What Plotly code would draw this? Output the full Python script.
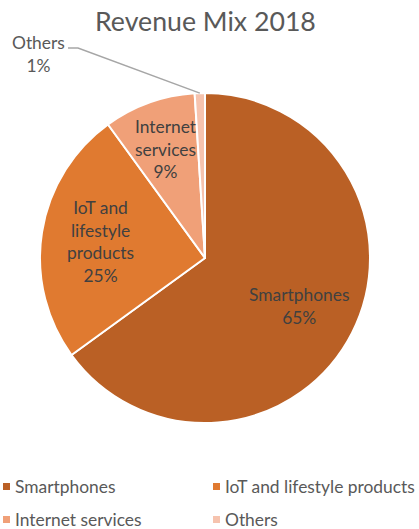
import math
import plotly.graph_objects as go

W, H = 419, 529
title = "Revenue Mix 2018"
labels = ["Smartphones", "IoT and lifestyle products", "Internet services", "Others"]
slice_text = ["Smartphones", "IoT and<br>lifestyle<br>products", "Internet<br>services", "Others"]
values = [65, 25, 9, 1]
colors = ["#BA6025", "#E07A30", "#F0A078", "#F6C3AE"]

FONT = "Lato"
FS = 17.4
cx, cy, R = 205, 258, 165  # pixel layout of pie
cyb = H - cy

fig = go.Figure(go.Pie(
    labels=labels, values=values, sort=False, direction="clockwise", rotation=0,
    marker=dict(colors=colors, line=dict(color="white", width=2)),
    textinfo="none", hoverinfo="label+percent", showlegend=False,
    domain=dict(x=[(cx - R) / W, (cx + R) / W], y=[(cyb - R) / H, (cyb + R) / H]),
))

total = sum(values)
cum = 0
ann = []
for i, v in enumerate(values):
    mid = (cum + v / 2) / total * 2 * math.pi
    cum += v
    pct = f"{round(v / total * 100)}%"
    if i < 3:
        rf = 0.7 if i == 2 else 0.64
        x = cx + rf * R * math.sin(mid)
        y = cyb + rf * R * math.cos(mid)
        ann.append(dict(x=x / W, y=y / H, xref="paper", yref="paper", showarrow=False,
                        xanchor="center", yanchor="middle",
                        text=f"{slice_text[i]}<br>{pct}",
                        font=dict(family=FONT, size=FS, color="#404040")))
    else:
        tx = cx + R * math.sin(mid)
        ty = cyb + R * math.cos(mid)
        lx, ly = 38, H - 54
        fig.add_shape(type="path", xref="paper", yref="paper",
                      path=f"M {tx/W},{ty/H} L {(lx+40)/W},{(H-48)/H} L {(lx+30)/W},{(H-48)/H}",
                      line=dict(color="#A6A6A6", width=1.5))
        ann.append(dict(x=lx / W, y=ly / H, xref="paper", yref="paper", showarrow=False,
                        xanchor="center", yanchor="middle",
                        text=f"{slice_text[i]}<br>{pct}",
                        font=dict(family=FONT, size=FS, color="#595959")))

# legend: colored square markers + labels (2 columns)
leg_pos = [(2, 486), (212, 486), (2, 519), (212, 519)]
for (lxp, lyp), lab, col in zip(leg_pos, labels, colors):
    fig.add_shape(type="rect", xref="paper", yref="paper",
                  x0=(lxp + 1) / W, x1=(lxp + 8) / W,
                  y0=(H - lyp - 4) / H, y1=(H - lyp + 3) / H,
                  fillcolor=col, line=dict(width=0))
    ann.append(dict(x=(lxp + 11) / W, y=(H - lyp) / H, xref="paper", yref="paper", showarrow=False,
                    xanchor="left", yanchor="middle", text=lab,
                    font=dict(family=FONT, size=FS, color="#595959")))

ann.append(dict(x=cx / W, y=(H - 21) / H, xref="paper", yref="paper", showarrow=False,
                xanchor="center", yanchor="middle",
                text=title, font=dict(family=FONT, size=26.7, color="#595959")))

fig.update_layout(width=W, height=H, margin=dict(l=0, r=0, t=0, b=0),
                  paper_bgcolor="white", annotations=ann)
fig.write_html("out.html")
